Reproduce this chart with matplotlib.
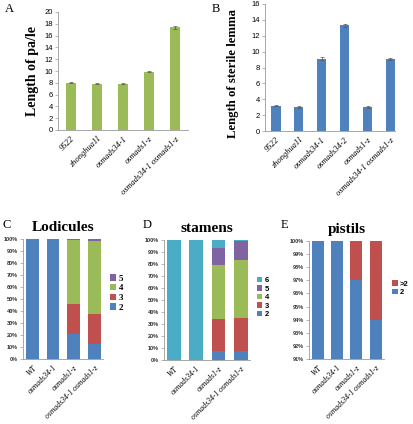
import matplotlib
matplotlib.use('Agg')
import matplotlib.pyplot as plt
import numpy as np

W, H = 414, 424

# panel A: palea/lemma length
a_names = ["9522", "zhonghua11", "osmads34-1", "osmads1-z", "osmads34-1 osmads1-z"]
a_vals = [8.0, 7.85, 7.85, 9.9, 17.4]
a_err = [0.1, 0.05, 0.1, 0.12, 0.3]

# panel B: sterile lemma length
b_names = ["9522", "zhonghua11", "osmads34-1", "osmads34-2", "osmads1-z", "osmads34-1 osmads1-z"]
b_vals = [3.2, 3.0, 9.1, 13.3, 3.0, 9.1]
b_err = [0.1, 0.1, 0.2, 0.15, 0.1, 0.15]

# panels C-E: organ number distributions (%)
genos = ["WT", "osmads34-1", "osmads1-z", "osmads34-1 osmads1-z"]
lod_labels = ["2", "3", "4", "5"]
lod = [[100, 100, 21, 12.5],
       [0, 0, 25, 25],
       [0, 0, 53, 61],
       [0, 0, 1, 1.5]]
sta_labels = ["2", "3", "4", "5", "6"]
sta = [[0, 0, 7.5, 7.5],
       [0, 0, 26.5, 27.5],
       [0, 0, 45, 48],
       [0, 0, 14, 16],
       [100, 100, 7, 1]]
pis_labels = ["2", ">2"]
pis = [[100, 100, 97, 94],
       [0, 0, 3, 6]]

blue, red, green, purple, cyan = "#4F81BD", "#C0504D", "#9BBB59", "#8064A2", "#4BACC6"
serif = "Liberation Serif"
sans = "Liberation Sans"


def box(l, r, t, b):
    return [l / W, (H - b) / H, (r - l) / W, (b - t) / H]


def style(ax):
    for s in ["top", "right"]:
        ax.spines[s].set_visible(False)
    for s in ["left", "bottom"]:
        ax.spines[s].set_color("#999999")
        ax.spines[s].set_linewidth(0.6)
    ax.tick_params(axis="y", length=2, width=0.5, color="#999999", pad=1.5)
    ax.tick_params(axis="x", length=0)


fig = plt.figure(figsize=(W / 100, H / 100), dpi=100)

# A
ax = fig.add_axes(box(58, 188, 12, 130))
x = np.arange(len(a_vals))
ax.bar(x, a_vals, width=0.4, color=green, yerr=a_err, ecolor="#555555",
       error_kw=dict(elinewidth=0.5, capsize=1.2, capthick=0.5))
ax.set_ylim(0, 20)
ax.set_yticks(range(0, 21, 2))
ax.set_xlim(-0.5, 4.5)
ax.set_xticks(x)
ax.set_xticklabels(a_names, rotation=45, ha="right", rotation_mode="anchor",
                   fontsize=6, family=serif, style="italic")
for t in ax.get_yticklabels():
    t.set_fontsize(5.5)
    t.set_family(sans)
ax.set_ylabel("Length of pa/le", family=serif, fontweight="bold", fontsize=10, labelpad=4)
style(ax)
fig.text(5 / W, 1 - 12 / H, "A", family=serif, fontsize=9)

# B
ax = fig.add_axes(box(265, 395, 4, 131))
x = np.arange(len(b_vals))
ax.bar(x, b_vals, width=0.4, color=blue, yerr=b_err, ecolor="#555555",
       error_kw=dict(elinewidth=0.5, capsize=1.2, capthick=0.5))
ax.set_ylim(0, 16)
ax.set_yticks(range(0, 17, 2))
ax.set_xlim(-0.48, 5.2)
ax.set_xticks(x)
ax.set_xticklabels(b_names, rotation=45, ha="right", rotation_mode="anchor",
                   fontsize=6, family=serif, style="italic")
for t in ax.get_yticklabels():
    t.set_fontsize(5.5)
    t.set_family(sans)
ax.set_ylabel("Length of sterile lemma", family=serif, fontweight="bold", fontsize=9.2, labelpad=4)
ax.yaxis.set_label_coords(-0.2, 0.45)
style(ax)
fig.text(212 / W, 1 - 12 / H, "B", family=serif, fontsize=9)


def stacked(bx, series, labels, colors, ylim, ticks, ticklabels, title, letter, lx, leg_pos, leg_font):
    ax = fig.add_axes(bx)
    x = np.arange(len(genos))
    bottom = np.zeros(len(genos))
    for vals, lab, c in zip(series, labels, colors):
        v = np.array(vals, dtype=float)
        ax.bar(x, v, width=0.62, bottom=bottom, color=c, label=lab)
        bottom += v
    ax.set_ylim(*ylim)
    ax.set_xlim(-0.45, 3.42)
    ax.set_yticks(ticks)
    ax.set_yticklabels(ticklabels, fontsize=4, family=sans, fontweight="bold", color="#333333")
    ax.set_xticks(x)
    ax.set_xticklabels(genos, rotation=45, ha="right", rotation_mode="anchor",
                       fontsize=5.5, family=serif, style="italic")
    style(ax)
    ax.set_title(title, family=serif, fontweight="bold", fontsize=11, pad=6)
    fig.text(lx / W, 1 - 228 / H, letter, family=serif, fontsize=9)
    h, l = ax.get_legend_handles_labels()
    ax.legend(h[::-1], l[::-1], loc="center left", bbox_to_anchor=leg_pos, frameon=False,
              handlelength=0.7, handleheight=0.7, handletextpad=0.3, labelspacing=0.15,
              prop=leg_font)
    return ax


pct = [f"{v}%" for v in range(0, 101, 10)]
stacked(box(23, 103, 239, 359), lod, lod_labels, [blue, red, green, purple],
        (0, 100), range(0, 101, 10), pct, "Lodicules", "C", 3, (0.98, 0.55),
        dict(family=serif, weight="bold", size=6.5))
stacked(box(164, 250, 240, 360), sta, sta_labels, [blue, red, green, purple, cyan],
        (0, 100), range(0, 101, 10), pct, "stamens", "D", 143, (1.0, 0.52),
        dict(family=sans, weight="bold", size=5.5))
stacked(box(309, 384, 241, 359), pis, pis_labels, [blue, red],
        (91, 100), range(91, 101), [f"{v}%" for v in range(91, 101)], "pistils", "E", 281, (1.02, 0.6),
        dict(family=sans, weight="bold", size=5.5))

fig.savefig("out.png", dpi=100)
